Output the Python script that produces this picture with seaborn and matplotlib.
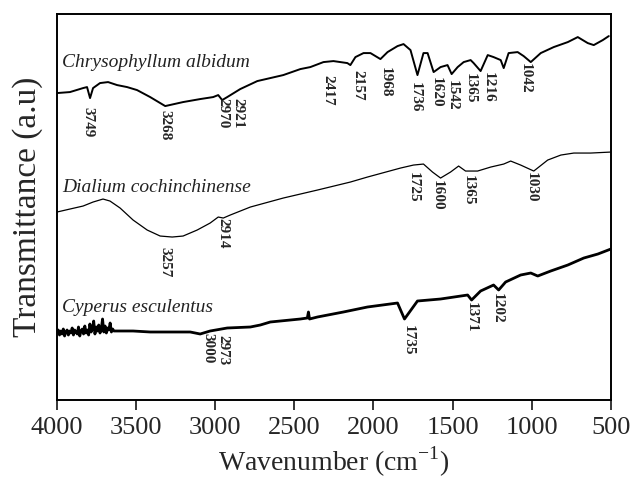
import matplotlib
matplotlib.use("Agg")
import pandas as pd
import matplotlib.pyplot as plt
import seaborn as sns


# the spectra (wavenumber in cm-1, transmittance in a.u.)

ca_wn = [4000, 3918, 3835, 3810, 3791, 3772, 3728, 3677, 3620, 3557, 3494, 3411,
         3316, 3203, 3095, 3013, 2981, 2956, 2924, 2842, 2734, 2570, 2462, 2399,
         2316, 2253, 2165, 2146, 2114, 2063, 2019, 1956, 1911, 1848, 1810, 1766,
         1722, 1684, 1658, 1620, 1576, 1532, 1506, 1468, 1430, 1386, 1367, 1323,
         1278, 1241, 1196, 1177, 1146, 1089, 1051, 1006, 943, 861, 772, 709,
         646, 608, 551, 513]
ca_t = [307, 308, 312, 313, 302, 312, 317, 318, 315, 313, 310, 303,
        294, 298, 301, 303, 305, 300, 303, 311, 319, 325, 331, 333,
        338, 339, 337, 335, 343, 347, 347, 341, 348, 354, 356, 350,
        325, 347, 347, 328, 333, 335, 326, 333, 338, 340, 337, 329,
        345, 343, 340, 332, 347, 348, 344, 338, 347, 353, 358, 363,
        357, 355, 360, 364]

dc_wn = [4000, 3918, 3835, 3772, 3709, 3665, 3601, 3519, 3430, 3348, 3272, 3203,
         3114, 3032, 2981, 2949, 2905, 2778, 2570, 2354, 2146, 2038, 1829, 1747,
         1684, 1627, 1576, 1513, 1462, 1418, 1342, 1259, 1177, 1133, 1070, 987,
         899, 816, 734, 627, 500]
dc_t = [188, 191, 194, 198, 201, 199, 192, 180, 170, 164, 163, 164,
        170, 177, 183, 182, 185, 193, 202, 210, 218, 223, 232, 235,
        236, 228, 222, 228, 234, 229, 229, 233, 236, 239, 235, 229,
        240, 245, 247, 247, 248]

ce_wn = [4000, 3992, 3984, 3976, 3968, 3960, 3952, 3944, 3936, 3928, 3920, 3912,
         3904, 3896, 3888, 3880, 3872, 3864, 3856, 3848, 3840, 3832, 3824, 3816,
         3808, 3800, 3792, 3784, 3776, 3768, 3760, 3752, 3744, 3736, 3728, 3720,
         3712, 3704, 3696, 3688, 3680, 3672, 3664, 3656, 3648, 3640,
         3519, 3411, 3304, 3158, 3095, 3032, 2924, 2778, 2715, 2652, 2525,
         2462, 2418, 2411, 2404, 2354, 2190, 2038, 1848, 1804, 1722, 1576, 1405,
         1380, 1323, 1241, 1209, 1165, 1070, 1006, 962, 880, 772, 671, 582, 500]
ce_t = [67, 70, 65, 69, 66, 71, 64, 68, 70, 65, 69, 67,
        72, 65, 70, 68, 66, 73, 64, 69, 71, 66, 74, 67,
        70, 65, 76, 68, 71, 79, 66, 73, 69, 75, 67, 71,
        81, 68, 74, 67, 72, 70, 77, 68, 71, 69,
        69, 68, 68, 68, 66, 69, 72, 73, 75, 78, 80,
        81, 82, 88, 81, 83, 88, 93, 97, 81, 99, 101, 105,
        100, 109, 115, 110, 118, 125, 127, 124, 129, 135, 142, 146, 151]

# band labels
ca_peaks = ["3749", "3268", "2970", "2921", "2417", "2157", "1968",
            "1736", "1620", "1542", "1365", "1216", "1042"]
dc_peaks = ["3257", "2914", "1725", "1600", "1365", "1030"]
ce_peaks = ["3000", "2973", "1735", "1371", "1202"]

# where the band labels sit (x in cm-1, y = top of the text)
ca_peak_x = [3804, 3316, 2949, 2854, 2291, 2101, 1924, 1734, 1601, 1500, 1390, 1272, 1038]
ca_peak_y = [293, 290, 302, 302, 325, 330, 333, 318, 323, 320, 327, 328, 337]
dc_peak_x = [3316, 2949, 1747, 1595, 1399, 1006]
dc_peak_y = [153, 182, 228, 220, 225, 228]
ce_peak_x = [3044, 2949, 1779, 1380, 1215]
ce_peak_y = [67, 65, 75, 98, 107]

samples = ["Chrysophyllum albidum", "Dialium cochinchinense", "Cyperus esculentus"]
sample_y = [338, 213, 93]


sns.set_style("white")
plt.rcParams["font.family"] = ["Liberation Serif", "DejaVu Serif"]
plt.rcParams["mathtext.fontset"] = "custom"
plt.rcParams["mathtext.rm"] = "Liberation Serif"

fig = plt.figure(figsize=(6.33, 4.86), dpi=100)
ax = fig.add_axes([0.090, 0.177, 0.875, 0.794])

spectra = [(ca_wn, ca_t, 1.4), (dc_wn, dc_t, 0.9), (ce_wn, ce_t, 2.0)]
for wn, t, lw in spectra:
    df = pd.DataFrame({"wn": wn, "t": t})
    sns.lineplot(data=df, x="wn", y="t", ax=ax, color="black", linewidth=lw,
                 estimator=None, sort=False)

# band labels, written top to bottom
for peaks, px, py in [(ca_peaks, ca_peak_x, ca_peak_y),
                      (dc_peaks, dc_peak_x, dc_peak_y),
                      (ce_peaks, ce_peak_x, ce_peak_y)]:
    for label, x, y in zip(peaks, px, py):
        ax.text(x, y, label, rotation=-90, ha="center", va="top",
                fontsize=11, fontweight="bold")

for name, y in zip(samples, sample_y):
    ax.text(3968, y, name, style="italic", fontsize=14, ha="left", va="center",
            color="#222222")

ax.set_xlim(4000, 500)
ax.set_ylim(0, 386)
ax.set_xticks([4000, 3500, 3000, 2500, 2000, 1500, 1000, 500])
ax.set_yticks([])
ax.tick_params(axis="x", direction="out", length=7, width=1.3, labelsize=19,
               pad=5, bottom=True)
for s in ax.spines.values():
    s.set_linewidth(1.4)
    s.set_color("black")

ax.set_xlabel(r"Wavenumber (cm$^{\mathrm{-1}}$)", fontsize=20, labelpad=4)
ax.set_ylabel("Transmittance (a.u)", fontsize=24, labelpad=10)

fig.savefig("out.png", dpi=100)
